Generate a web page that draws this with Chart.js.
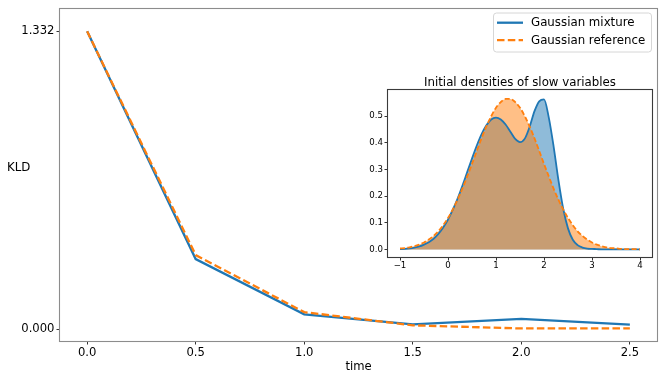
<!DOCTYPE html>
<html>
<head>
<meta charset="utf-8">
<script src="https://cdn.jsdelivr.net/npm/chart.js@4.4.1/dist/chart.umd.min.js"></script>
<style>
  html, body { margin: 0; padding: 0; background: #fff; }
  #wrap { position: relative; width: 664px; height: 380px; }
  #main { position: absolute; left: 0; top: 0; }
  #inset { position: absolute; left: 358px; top: 69px; }
</style>
</head>
<body>
<div id="wrap">
  <canvas id="main" width="664" height="380"></canvas>
  <canvas id="inset" width="300" height="201"></canvas>
</div>
<script>
// ---- Main chart data ----
const times = [0.0, 0.5, 1.0, 1.5, 2.0, 2.5];
const mixtureKLD = [1.332, 0.314, 0.067, 0.022, 0.047, 0.021];
const referenceKLD = [1.332, 0.332, 0.077, 0.018, 0.004, 0.004];
const timeTicks = [0.0, 0.5, 1.0, 1.5, 2.0, 2.5];
const kldTicks = [0.000, 1.332];
const seriesNames = ['Gaussian mixture', 'Gaussian reference'];

// ---- Inset data ----
const densityX = [-1.0,-0.9,-0.8,-0.7,-0.6,-0.5,-0.4,-0.3,-0.2,-0.1,
  0.0,0.1,0.2,0.3,0.4,0.5,0.6,0.7,0.8,0.9,
  1.0,1.1,1.2,1.3,1.4,1.5,1.6,1.7,1.8,1.9,
  2.0,2.1,2.2,2.3,2.4,2.5,2.6,2.7,2.8,2.9,
  3.0,3.1,3.2,3.3,3.4,3.5,3.6,3.7,3.8,3.9,4.0];
const mixtureDensity = [0.001,0.002,0.004,0.007,0.011,0.018,0.027,0.040,0.058,0.082,
  0.112,0.149,0.191,0.239,0.290,0.341,0.390,0.433,0.466,0.488,
  0.495,0.488,0.469,0.442,0.415,0.403,0.416,0.460,0.518,0.556,
  0.563,0.495,0.387,0.261,0.153,0.079,0.036,0.016,0.007,0.003,
  0.002,0.001,0.000,0.000,0.000,0.000,0.000,0.000,0.000,0.000,0.000];
const referenceDensity = [0.004,0.005,0.008,0.012,0.018,0.026,0.037,0.051,0.068,0.091,
  0.118,0.150,0.187,0.228,0.274,0.321,0.370,0.418,0.462,0.500,
  0.532,0.553,0.565,0.565,0.553,0.532,0.500,0.462,0.418,0.370,
  0.321,0.274,0.228,0.187,0.150,0.118,0.091,0.068,0.051,0.037,
  0.026,0.018,0.012,0.008,0.005,0.004,0.002,0.001,0.001,0.001,0.000];
const densityXTicks = [-1, 0, 1, 2, 3, 4];
const densityYTicks = [0.0, 0.1, 0.2, 0.3, 0.4, 0.5];
const insetTitle = 'Initial densities of slow variables';

const BLUE = '#1f77b4';
const ORANGE = '#ff7f0e';
const FONT = 'DejaVu Sans';

function pts(xs, ys) { return xs.map((x, i) => ({ x: x, y: ys[i] })); }

const framePlugin = (color, bg, title) => ({
  id: 'frame',
  beforeDatasetsDraw(chart) {
    if (!bg) return;
    const a = chart.chartArea, c = chart.ctx;
    c.save(); c.fillStyle = bg;
    c.fillRect(a.left, a.top, a.right - a.left, a.bottom - a.top);
    c.restore();
  },
  afterDatasetsDraw(chart) {
    const a = chart.chartArea, c = chart.ctx;
    c.save();
    c.strokeStyle = color; c.lineWidth = 1.1;
    c.strokeRect(Math.round(a.left) - 0.5, Math.round(a.top) - 0.5,
      Math.round(a.right - a.left) + 1, Math.round(a.bottom - a.top) + 1);
    if (title) {
      c.fillStyle = '#000';
      c.font = '11.8px "' + FONT + '"';
      c.textAlign = 'center'; c.textBaseline = 'alphabetic';
      c.fillText(title, (a.left + a.right) / 2, a.top - 4);
    }
    c.restore();
  }
});

const legendPlugin = {
  id: 'mplLegend',
  afterDraw(chart) {
    const c = chart.ctx;
    const x0 = 493, y0 = 12.5, w = 158, h = 39;
    c.save();
    c.beginPath();
    if (c.roundRect) c.roundRect(x0 + 0.5, y0 + 0.5, w, h, 3); else c.rect(x0 + 0.5, y0 + 0.5, w, h);
    c.fillStyle = 'rgba(255,255,255,0.8)';
    c.fill();
    c.strokeStyle = '#d6d6d6'; c.lineWidth = 1;
    c.stroke();
    const rows = [22.7, 40.2];
    chart.data.datasets.forEach((ds, i) => {
      const y = rows[i];
      c.beginPath();
      c.setLineDash(ds.borderDash || []);
      c.strokeStyle = ds.borderColor; c.lineWidth = ds.borderWidth;
      c.moveTo(497, y); c.lineTo(523, y); c.stroke();
      c.setLineDash([]);
      c.fillStyle = '#000';
      c.font = '11.8px "' + FONT + '"';
      c.textBaseline = 'middle'; c.textAlign = 'left';
      c.fillText(ds.label, 531, y + 0.5);
    });
    // horizontal y-axis label
    c.font = '11.8px "' + FONT + '"';
    c.fillStyle = '#000';
    c.textBaseline = 'middle'; c.textAlign = 'left';
    c.fillText('KLD', 7, 168);
    c.restore();
  }
};

const mainFont = { family: FONT, size: 11.6 };

new Chart(document.getElementById('main'), {
  type: 'line',
  data: {
    datasets: [
      { label: seriesNames[0], data: pts(times, mixtureKLD), borderColor: BLUE, backgroundColor: BLUE,
        borderWidth: 2.3, pointRadius: 0, tension: 0, fill: false, order: 2 },
      { label: seriesNames[1], data: pts(times, referenceKLD), borderColor: ORANGE, backgroundColor: ORANGE,
        borderWidth: 2.3, borderDash: [7.5, 3.3], pointRadius: 0, tension: 0, fill: false, order: 1 }
    ]
  },
  options: {
    responsive: false, animation: false, devicePixelRatio: 1,
    layout: { padding: { left: 0, top: 7, right: 7, bottom: 0 } },
    plugins: { legend: { display: false }, tooltip: { enabled: false }, title: { display: false } },
    scales: {
      x: {
        type: 'linear', min: -0.125, max: 2.625,
        afterBuildTicks: ax => { ax.ticks = timeTicks.map(v => ({ value: v })); },
        afterFit: s => { s.height = 39; },
        ticks: { font: mainFont, color: '#000', padding: 2, maxRotation: 0, autoSkip: false,
          callback: v => Number(v).toFixed(1) },
        grid: { drawOnChartArea: false, drawTicks: true, tickLength: 3.5, tickColor: '#333', tickWidth: 1 },
        border: { display: false },
        title: { display: true, text: 'time', font: mainFont, color: '#000', padding: { top: 0, bottom: 6 } }
      },
      y: {
        type: 'linear', min: -0.052, max: 1.432,
        afterBuildTicks: ax => { ax.ticks = kldTicks.map(v => ({ value: v })); },
        afterFit: s => { s.width = 60; },
        ticks: { font: mainFont, color: '#000', padding: 2, autoSkip: false,
          callback: v => Number(v).toFixed(3) },
        grid: { drawOnChartArea: false, drawTicks: true, tickLength: 3.5, tickColor: '#333', tickWidth: 1 },
        border: { display: false }
      }
    }
  },
  plugins: [framePlugin('#8c8c8c', null, null), legendPlugin]
});

const insetFont = { family: FONT, size: 8.6 };

new Chart(document.getElementById('inset'), {
  type: 'line',
  data: {
    datasets: [
      // filled areas (drawn first, underneath)
      { label: seriesNames[0] + ' area', data: pts(densityX, mixtureDensity), borderWidth: 0, borderColor: 'rgba(0,0,0,0)',
        backgroundColor: 'rgba(31,119,180,0.5)', pointRadius: 0,
        cubicInterpolationMode: 'monotone', fill: 'origin', order: 4 },
      { label: seriesNames[1] + ' area', data: pts(densityX, referenceDensity), borderWidth: 0, borderColor: 'rgba(0,0,0,0)',
        backgroundColor: 'rgba(255,127,14,0.5)', pointRadius: 0,
        cubicInterpolationMode: 'monotone', fill: 'origin', order: 3 },
      // curves on top
      { label: seriesNames[0], data: pts(densityX, mixtureDensity), borderColor: BLUE,
        borderWidth: 1.8, pointRadius: 0, cubicInterpolationMode: 'monotone', fill: false, order: 2 },
      { label: seriesNames[1], data: pts(densityX, referenceDensity), borderColor: ORANGE,
        borderWidth: 1.8, borderDash: [5, 2.4], pointRadius: 0,
        cubicInterpolationMode: 'monotone', fill: false, order: 1 }
    ]
  },
  options: {
    responsive: false, animation: false, devicePixelRatio: 1,
    layout: { padding: { left: 0, top: 21, right: 6, bottom: 0 } },
    plugins: { legend: { display: false }, tooltip: { enabled: false }, title: { display: false } },
    scales: {
      x: {
        type: 'linear', min: -1.25, max: 4.25,
        afterBuildTicks: ax => { ax.ticks = densityXTicks.map(v => ({ value: v })); },
        afterFit: s => { s.height = 13; },
        ticks: { font: insetFont, color: '#000', padding: 0, maxRotation: 0, autoSkip: false,
          callback: v => String(v).replace('-', '\u2212') },
        grid: { drawOnChartArea: false, drawTicks: true, tickLength: 3.5, tickColor: '#333', tickWidth: 1 },
        border: { display: false }
      },
      y: {
        type: 'linear', min: -0.0285, max: 0.5985,
        afterBuildTicks: ax => { ax.ticks = densityYTicks.map(v => ({ value: v })); },
        afterFit: s => { s.width = 30; },
        ticks: { font: insetFont, color: '#000', padding: 1.5, autoSkip: false,
          callback: v => Number(v).toFixed(1) },
        grid: { drawOnChartArea: false, drawTicks: true, tickLength: 3.5, tickColor: '#333', tickWidth: 1 },
        border: { display: false }
      }
    }
  },
  plugins: [framePlugin('#3a3a3a', '#ffffff', insetTitle)]
});
</script>
</body>
</html>
